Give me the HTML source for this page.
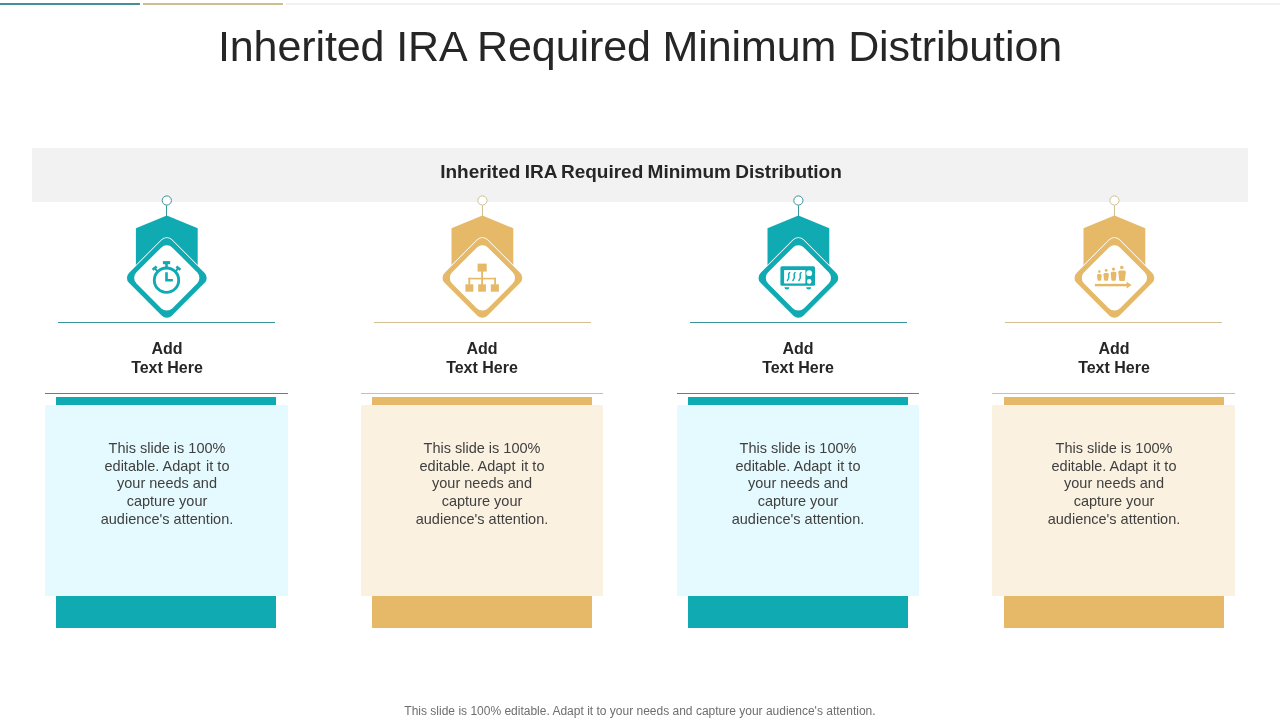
<!DOCTYPE html>
<html><head><meta charset="utf-8">
<style>
html,body{margin:0;padding:0;}
body{width:1280px;height:720px;position:relative;overflow:hidden;background:#fff;font-family:"Liberation Sans",sans-serif;}
.abs{position:absolute;}
.tx{will-change:transform;}
#title{left:0;width:1280px;top:22px;text-align:center;font-size:43px;line-height:48px;color:#262626;white-space:nowrap;letter-spacing:-0.1px;}
#band{left:32px;top:148px;width:1216px;height:54px;background:#f2f2f2;}
#bandt{left:1px;width:1280px;top:161px;text-align:center;font-size:19px;line-height:22px;font-weight:bold;color:#262626;white-space:nowrap;word-spacing:-1px;}
#foot{left:0;width:1280px;top:704px;text-align:center;font-size:12px;line-height:14px;color:#6e6e6e;white-space:nowrap;}
.hd{width:260px;top:338.5px;text-align:center;font-weight:bold;font-size:16px;line-height:19px;color:#262626;}
.bd{width:260px;top:439.5px;text-align:center;font-size:14.5px;line-height:17.65px;color:#404040;}
.l1{top:322px;width:217px;height:1px;}
.l2{top:393px;width:243px;height:1px;}
.b1{top:397px;width:220px;height:8px;}
.box{top:405px;width:243px;height:191px;border-radius:2px 2px 0 0;}
.b2{top:596px;width:220px;height:32px;}
.t.l1,.t.l2{background:#38939a;}
.g.l1,.g.l2{background:#d2c093;}
.t.b1,.t.b2{background:#10aab3;}
.g.b1,.g.b2{background:#e5b968;}
.t.box{background:#e5fafe;}
.g.box{background:#faf1e1;}
svg.ic{position:absolute;top:190px;width:100px;height:140px;overflow:visible;}
</style></head><body>
<div class="abs" style="left:0;top:3px;width:140px;height:2px;background:#45909a;"></div>
<div class="abs" style="left:143px;top:3px;width:140px;height:2px;background:#cbbf92;"></div>
<div class="abs" style="left:286px;top:3px;width:994px;height:2px;background:#f1f1f1;"></div>
<div id="title" class="abs tx">Inherited IRA Required Minimum Distribution</div>
<div id="band" class="abs"></div>
<div id="bandt" class="abs tx">Inherited IRA Required Minimum Distribution</div>
<svg class="ic" style="left:117px" viewBox="0 0 100 140">
  <line x1="49.5" y1="15.4" x2="49.5" y2="26" stroke="#38939a" stroke-width="1"/>
  <circle cx="49.8" cy="10.5" r="4.6" fill="#fff" stroke="#38939a" stroke-width="1"/>
  <g transform="translate(-0.2 0)">
  <path d="M50 25.6 L80.9 38.3 L80.9 82 L19.1 82 L19.1 38.3 Z" fill="#10aab3"/>
  <g transform="translate(50 87.9) rotate(45)">
   <rect x="-31.05" y="-31.05" width="62.1" height="62.1" rx="7.8" fill="#fff"/>
   <rect x="-30.25" y="-30.25" width="60.5" height="60.5" rx="7" fill="#10aab3"/>
   <rect x="-25.4" y="-25.4" width="50.8" height="50.8" rx="8" fill="#fff"/>
  </g></g>
  <g fill="none" stroke="#10aab3" stroke-width="2.9">
   <circle cx="49.5" cy="90.2" r="12.2"/>
  </g>
  <rect x="45.9" y="71.1" width="7.3" height="3.1" fill="#10aab3"/>
  <rect x="48.2" y="73" width="2.6" height="5.5" fill="#10aab3"/>
  <g stroke="#10aab3" stroke-width="2.6" fill="none">
   <line x1="35.6" y1="79.7" x2="39.6" y2="76.5"/>
   <line x1="59.4" y1="76.5" x2="63.4" y2="79.7"/>
   <line x1="37.8" y1="78.1" x2="40.6" y2="81.6" stroke-width="2"/>
   <line x1="61.2" y1="78.1" x2="58.4" y2="81.6" stroke-width="2"/>
   <path d="M49.5 82.2 V90.3 H55.8" stroke-width="2.6"/>
  </g>
</svg>
<div class="abs l1 t" style="left:58px"></div>
<div class="abs hd tx" style="left:36.6px">Add<br>Text Here</div>
<div class="abs l2 t" style="left:45px;width:243px"></div>
<div class="abs b1 t" style="left:56px"></div>
<div class="abs box t" style="left:45px;width:243px"></div>
<div class="abs b2 t" style="left:56px"></div>
<div class="abs bd tx" style="left:36.6px">This slide is 100%<br>editable. Adapt <span style="padding-left:1.6px">it</span> to<br>your needs and<br>capture your<br>audience's attention.</div>
<svg class="ic" style="left:432px" viewBox="0 0 100 140">
  <line x1="50.5" y1="15.4" x2="50.5" y2="26" stroke="#d2c093" stroke-width="1"/>
  <circle cx="50.4" cy="10.5" r="4.6" fill="#fff" stroke="#d2c093" stroke-width="1"/>
  <g transform="translate(0.4 0)">
  <path d="M50 25.6 L80.9 38.3 L80.9 82 L19.1 82 L19.1 38.3 Z" fill="#e5b968"/>
  <g transform="translate(50 87.9) rotate(45)">
   <rect x="-31.05" y="-31.05" width="62.1" height="62.1" rx="7.8" fill="#fff"/>
   <rect x="-30.25" y="-30.25" width="60.5" height="60.5" rx="7" fill="#e5b968"/>
   <rect x="-25.4" y="-25.4" width="50.8" height="50.8" rx="8" fill="#fff"/>
  </g></g>
  <g fill="#e5b968">
   <rect x="45.6" y="73.6" width="9.1" height="8"/>
   <rect x="49.2" y="81" width="1.8" height="14"/>
   <rect x="36.4" y="87.8" width="27.6" height="1.6"/>
   <rect x="36.4" y="87.8" width="1.8" height="7"/>
   <rect x="62.2" y="87.8" width="1.8" height="7"/>
   <rect x="33.4" y="94.3" width="7.9" height="7.4"/>
   <rect x="46.2" y="94.3" width="7.7" height="7.4"/>
   <rect x="58.8" y="94.3" width="8.1" height="7.4"/>
  </g>
</svg>
<div class="abs l1 g" style="left:374px"></div>
<div class="abs hd tx" style="left:352.2px">Add<br>Text Here</div>
<div class="abs l2 g" style="left:361px;width:242px"></div>
<div class="abs b1 g" style="left:372px"></div>
<div class="abs box g" style="left:361px;width:242px"></div>
<div class="abs b2 g" style="left:372px"></div>
<div class="abs bd tx" style="left:352.2px">This slide is 100%<br>editable. Adapt <span style="padding-left:1.6px">it</span> to<br>your needs and<br>capture your<br>audience's attention.</div>
<svg class="ic" style="left:748px" viewBox="0 0 100 140">
  <line x1="50.5" y1="15.4" x2="50.5" y2="26" stroke="#38939a" stroke-width="1"/>
  <circle cx="50.4" cy="10.5" r="4.6" fill="#fff" stroke="#38939a" stroke-width="1"/>
  <g transform="translate(0.4 0)">
  <path d="M50 25.6 L80.9 38.3 L80.9 82 L19.1 82 L19.1 38.3 Z" fill="#10aab3"/>
  <g transform="translate(50 87.9) rotate(45)">
   <rect x="-31.05" y="-31.05" width="62.1" height="62.1" rx="7.8" fill="#fff"/>
   <rect x="-30.25" y="-30.25" width="60.5" height="60.5" rx="7" fill="#10aab3"/>
   <rect x="-25.4" y="-25.4" width="50.8" height="50.8" rx="8" fill="#fff"/>
  </g></g>
  <rect x="32.4" y="76.2" width="34.6" height="19.6" rx="1.6" fill="#10aab3"/>
  <rect x="36.1" y="80" width="21.3" height="13.4" rx="0.6" fill="#fff"/>
  <circle cx="61.2" cy="83.2" r="2.9" fill="#fff"/>
  <circle cx="61.2" cy="91.4" r="2.3" fill="#fff"/>
  <path d="M36.4 97.2 h4.9 a2.45 2.3 0 0 1 -4.9 0 Z M58.2 97.2 h5 a2.5 2.3 0 0 1 -5 0 Z" fill="#10aab3"/>
  <g fill="none" stroke="#10aab3" stroke-width="1.5" stroke-linecap="round">
   <path d="M41.6 82.5 c-3.2 2.6 1.8 3.6 -2.2 8"/>
   <path d="M47.1 82.5 c-3.2 2.6 1.8 3.6 -2.2 8"/>
   <path d="M53.1 82.5 c-3.2 2.6 1.8 3.6 -2.2 8"/>
  </g>
</svg>
<div class="abs l1 t" style="left:690px"></div>
<div class="abs hd tx" style="left:667.9px">Add<br>Text Here</div>
<div class="abs l2 t" style="left:677px;width:242px"></div>
<div class="abs b1 t" style="left:688px"></div>
<div class="abs box t" style="left:677px;width:242px"></div>
<div class="abs b2 t" style="left:688px"></div>
<div class="abs bd tx" style="left:667.9px">This slide is 100%<br>editable. Adapt <span style="padding-left:1.6px">it</span> to<br>your needs and<br>capture your<br>audience's attention.</div>
<svg class="ic" style="left:1064px" viewBox="0 0 100 140">
  <line x1="50.5" y1="15.4" x2="50.5" y2="26" stroke="#d2c093" stroke-width="1"/>
  <circle cx="50.4" cy="10.5" r="4.6" fill="#fff" stroke="#d2c093" stroke-width="1"/>
  <g transform="translate(0.4 0)">
  <path d="M50 25.6 L80.9 38.3 L80.9 82 L19.1 82 L19.1 38.3 Z" fill="#e5b968"/>
  <g transform="translate(50 87.9) rotate(45)">
   <rect x="-31.05" y="-31.05" width="62.1" height="62.1" rx="7.8" fill="#fff"/>
   <rect x="-30.25" y="-30.25" width="60.5" height="60.5" rx="7" fill="#e5b968"/>
   <rect x="-25.4" y="-25.4" width="50.8" height="50.8" rx="8" fill="#fff"/>
  </g></g>
  <g fill="#e5b968"><circle cx="35.3" cy="81.6" r="1.3"/><path d="M34.4 84.1 H36.3 Q37.7 84.1 37.7 85.7 L37.1 90.0 Q36.9 90.8 36.1 90.8 H34.6 Q33.8 90.8 33.6 90.0 L33.0 85.7 Q33.0 84.1 34.4 84.1 Z"/><circle cx="42.2" cy="80.4" r="1.45"/><path d="M40.8 82.9 H43.5 Q44.9 82.9 44.9 84.5 L44.2 90.0 Q44.0 90.8 43.2 90.8 H41.1 Q40.3 90.8 40.1 90.0 L39.4 84.5 Q39.4 82.9 40.8 82.9 Z"/><circle cx="49.5" cy="79.1" r="1.6"/><path d="M48.1 81.8 H51.1 Q52.5 81.8 52.5 83.4 L51.8 90.0 Q51.6 90.8 50.8 90.8 H48.4 Q47.6 90.8 47.4 90.0 L46.7 83.4 Q46.7 81.8 48.1 81.8 Z"/><circle cx="57.8" cy="77.5" r="1.8"/><path d="M55.7 80.6 H60.4 Q61.8 80.6 61.8 82.2 L60.9 90.2 Q60.7 91.0 59.9 91.0 H56.2 Q55.4 91.0 55.2 90.2 L54.3 82.2 Q54.3 80.6 55.7 80.6 Z"/>
   <rect x="30.9" y="93.9" width="32.3" height="2.4"/>
   <path d="M62.6 91.7 L67.6 95.1 L62.6 98.5 Z"/>
  </g>
</svg>
<div class="abs l1 g" style="left:1005px"></div>
<div class="abs hd tx" style="left:983.6px">Add<br>Text Here</div>
<div class="abs l2 g" style="left:992px;width:243px"></div>
<div class="abs b1 g" style="left:1004px"></div>
<div class="abs box g" style="left:992px;width:243px"></div>
<div class="abs b2 g" style="left:1004px"></div>
<div class="abs bd tx" style="left:983.6px">This slide is 100%<br>editable. Adapt <span style="padding-left:1.6px">it</span> to<br>your needs and<br>capture your<br>audience's attention.</div>
<div id="foot" class="abs tx">This slide is 100% editable. Adapt it to your needs and capture your audience's attention.</div>
</body></html>
